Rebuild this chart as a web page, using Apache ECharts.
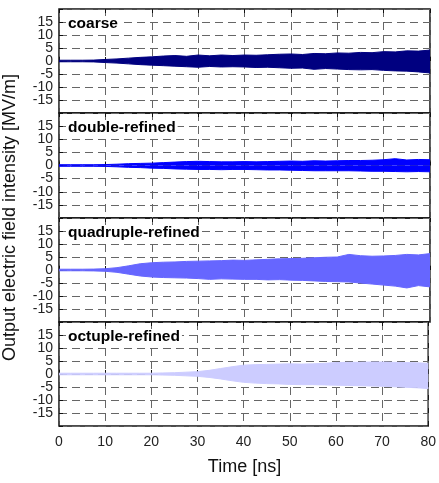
<!DOCTYPE html>
<html>
<head>
<meta charset="utf-8">
<script src="https://cdn.jsdelivr.net/npm/echarts@6/dist/echarts.min.js"></script>
<style>
html, body { margin: 0; padding: 0; background: #fff; }
#chart { width: 439px; height: 483px; }
</style>
</head>
<body>
<div id="chart"></div>
<script>
// time samples [ns]
var time = [0, 2.5, 5, 7.5, 10, 12.5, 15, 17.5, 20, 22.5, 25, 27.5, 30, 32.5, 35, 37.5,
  40, 42.5, 45, 47.5, 50, 52.5, 55, 57.5, 60, 62.5, 65, 67.5, 70, 72.5, 75, 77.5, 80];

// envelope of the field (upper / lower) for each mesh [MV/m]
var coarseUp = [0.3, 0.3, 0.3, 0.35, 0.6, 0.8, 1.1, 1.4, 1.6, 1.9, 2.1, 1.8, 2.3, 2.0, 2.3, 2.1,
  2.3, 2.2, 2.4, 2.6, 2.7, 2.5, 2.9, 2.8, 3.1, 3.0, 3.3, 3.2, 3.6, 3.5, 3.9, 3.8, 4.2];
var coarseLow = [-0.3, -0.3, -0.3, -0.35, -0.6, -0.8, -1.1, -1.4, -1.6, -1.8, -2.0, -2.2, -2.4, -2.1, -2.3, -2.2,
  -2.3, -2.5, -2.4, -2.6, -2.8, -2.7, -3.2, -2.9, -3.1, -3.3, -3.4, -3.3, -3.6, -3.8, -3.9, -4.2, -4.6];

var doubleUp = [0.3, 0.3, 0.3, 0.3, 0.35, 0.5, 0.7, 0.8, 0.9, 1.1, 1.3, 1.5, 1.6, 1.5, 1.4, 1.4,
  1.5, 1.4, 1.5, 1.6, 1.7, 1.6, 1.8, 1.7, 1.8, 1.9, 1.9, 2.0, 2.2, 2.6, 2.1, 2.3, 2.2];
var doubleLow = [-0.3, -0.3, -0.3, -0.3, -0.35, -0.5, -0.7, -0.8, -1.0, -1.1, -1.3, -1.4, -1.5, -1.5, -1.6, -1.5,
  -1.5, -1.6, -1.7, -1.7, -1.8, -1.9, -2.0, -2.0, -2.0, -2.0, -2.1, -2.2, -2.2, -2.3, -2.4, -2.3, -2.4];

var quadUp = [0.3, 0.3, 0.3, 0.35, 0.5, 0.9, 1.6, 2.4, 2.8, 3.0, 3.1, 3.3, 3.4, 3.5, 3.6, 3.8,
  3.7, 3.9, 4.1, 4.3, 4.4, 4.5, 4.7, 4.9, 5.0, 6.0, 5.5, 5.3, 5.4, 5.6, 6.0, 5.8, 6.3];
var quadLow = [-0.3, -0.3, -0.3, -0.35, -0.5, -0.9, -1.6, -2.3, -2.7, -2.9, -3.0, -3.1, -3.3, -3.6, -3.4, -3.5,
  -3.6, -3.6, -3.8, -3.7, -3.9, -4.0, -4.2, -4.4, -4.5, -4.6, -5.0, -5.4, -5.8, -6.2, -6.9, -6.0, -6.5];

var octUp = [0.3, 0.3, 0.3, 0.3, 0.3, 0.3, 0.3, 0.3, 0.3, 0.4, 0.5, 0.7, 0.9, 1.4, 2.1, 2.8,
  3.4, 3.6, 3.7, 3.8, 3.9, 3.8, 3.9, 4.1, 4.4, 4.5, 4.5, 4.6, 4.6, 4.5, 4.4, 4.3, 4.1];
var octLow = [-0.3, -0.3, -0.3, -0.3, -0.3, -0.3, -0.3, -0.3, -0.3, -0.4, -0.5, -0.7, -0.9, -1.3, -1.9, -2.6,
  -3.2, -3.5, -3.7, -3.8, -4.0, -4.1, -4.1, -4.2, -4.3, -4.4, -4.5, -4.6, -4.7, -4.9, -5.1, -5.3, -5.6];

var panelNames = ['coarse', 'double-refined', 'quadruple-refined', 'octuple-refined'];
var panelUp = [coarseUp, doubleUp, quadUp, octUp];
var panelLow = [coarseLow, doubleLow, quadLow, octLow];
var panelColors = ['#000080', '#0000ff', '#6666ff', '#ccccff'];

var xTicks = [0, 10, 20, 30, 40, 50, 60, 70, 80];
var yTicks = [-15, -10, -5, 0, 5, 10, 15];

var font = 'Liberation Sans, Arial, sans-serif';
var tops = [9, 113, 218, 322];
var heights = [104, 105, 104, 104];
var dash = { color: '#666', width: 1, type: [8, 5] };

function pairs(ys) {
  return time.map(function (t, i) { return [t, ys[i]]; });
}

var grids = [], xAxes = [], yAxes = [], series = [], titles = [];

panelNames.forEach(function (name, i) {
  grids.push({
    left: 59, right: 9, top: tops[i], height: heights[i],
    show: true, borderColor: '#111', borderWidth: 1.5, backgroundColor: 'transparent'
  });
  var last = i === panelNames.length - 1;
  // bottom axis
  xAxes.push({
    type: 'value', gridIndex: i, position: 'bottom',
    min: xTicks[0], max: xTicks[xTicks.length - 1], interval: 10,
    axisLine: { show: false },
    axisTick: { show: true, inside: true, length: 4, lineStyle: { color: '#111' } },
    axisLabel: { show: last, fontSize: 14, color: '#222', fontFamily: font, margin: 9 },
    splitLine: { show: true, lineStyle: dash }
  });
  // top axis, ticks only
  xAxes.push({
    type: 'value', gridIndex: i, position: 'top',
    min: xTicks[0], max: xTicks[xTicks.length - 1], interval: 10,
    axisLine: { show: false },
    axisTick: { show: true, inside: true, length: 4, lineStyle: { color: '#111' } },
    axisLabel: { show: false },
    splitLine: { show: false }
  });
  yAxes.push({
    type: 'value', gridIndex: i,
    min: -20, max: 20, interval: 5,
    axisLine: { show: false },
    axisTick: { show: true, inside: true, length: 4, lineStyle: { color: '#111' } },
    axisLabel: {
      fontSize: 14, color: '#222', fontFamily: font, margin: 6,
      formatter: function (v) { return yTicks.indexOf(v) >= 0 ? String(v) : ''; }
    },
    splitLine: { show: true, lineStyle: dash }
  });
  [panelUp[i], panelLow[i]].forEach(function (ys) {
    series.push({
      type: 'line', xAxisIndex: i * 2, yAxisIndex: i,
      data: pairs(ys), showSymbol: false, silent: true,
      lineStyle: { color: panelColors[i], width: 1 },
      areaStyle: { color: panelColors[i], opacity: 1, origin: 'auto' }
    });
  });
  titles.push({
    text: name, left: 66, top: tops[i] + 7, padding: [0, 2],
    backgroundColor: '#fff',
    textStyle: { fontSize: 15.5, fontWeight: 'bold', color: '#000', fontFamily: font }
  });
});

var chart = echarts.init(document.getElementById('chart'));
chart.setOption({
  animation: false,
  title: titles,
  grid: grids,
  xAxis: xAxes,
  yAxis: yAxes,
  series: series,
  graphic: [
    {
      type: 'text', x: 10, y: 217.5, rotation: Math.PI / 2,
      style: {
        text: 'Output electric field intensity [MV/m]', align: 'center', verticalAlign: 'middle',
        fontSize: 18, fontFamily: font, fill: '#111'
      }
    },
    {
      type: 'text', x: 244.5, y: 467,
      style: {
        text: 'Time [ns]', align: 'center', verticalAlign: 'middle',
        fontSize: 18, fontFamily: font, fill: '#111'
      }
    }
  ]
});
</script>
</body>
</html>
